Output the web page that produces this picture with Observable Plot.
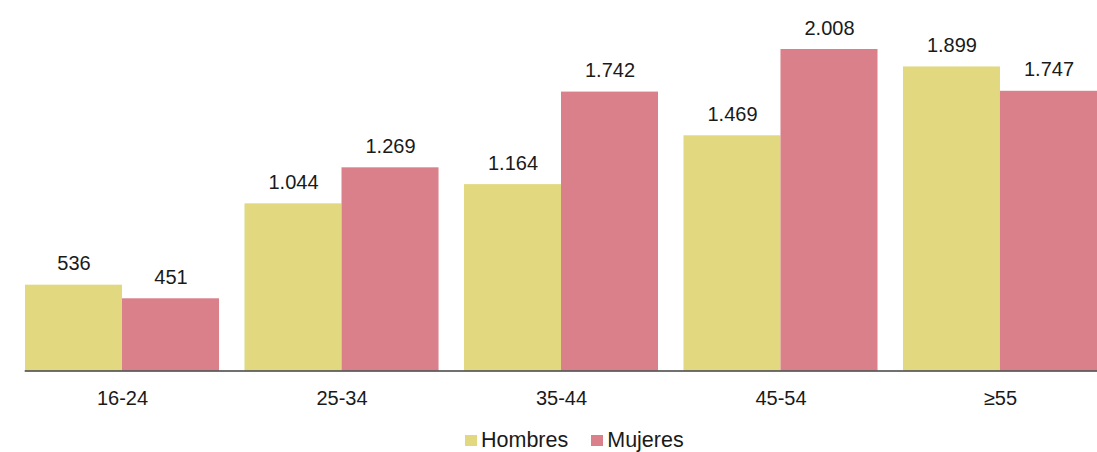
<!DOCTYPE html>
<html>
<head>
<meta charset="utf-8">
<script src="https://cdn.jsdelivr.net/npm/d3@7"></script>
<script src="https://cdn.jsdelivr.net/npm/@observablehq/plot@0.6"></script>
<style>
  html, body { margin: 0; padding: 0; background: #fff; }
  body { width: 1097px; height: 452px; position: relative; overflow: hidden; font-family: "Liberation Sans", Arial, sans-serif; }
  #legend { position: absolute; left: 465px; top: 430px; display: flex; align-items: center; font-size: 21.5px; line-height: 20px; color: #1a1a1a; }
  .sw { display: inline-block; width: 12px; height: 11px; margin-right: 4px; }
  .item { display: flex; align-items: center; margin-right: 23px; }
</style>
</head>
<body>
<div id="chart"></div>
<div id="legend"></div>
<script>
const ages = ["16-24", "25-34", "35-44", "45-54", "≥55"];
const series = ["Hombres", "Mujeres"];
const hombres = [536, 1044, 1164, 1469, 1899];
const mujeres = [451, 1269, 1742, 2008, 1747];
const colors = ["#e1d880", "#d9808a"];

const data = ages.flatMap((age, i) => [
  {age, sex: series[0], value: hombres[i]},
  {age, sex: series[1], value: mujeres[i]}
]);

const es = d3.formatLocale({decimal: ",", thousands: ".", grouping: [3], currency: ["", "€"]});
const fmt = es.format(",");

const chart = Plot.plot({
  width: 1097,
  height: 420,
  marginTop: 49,
  marginBottom: 49.5,
  marginLeft: 12,
  marginRight: 0,
  style: {fontFamily: "'Liberation Sans', Arial, sans-serif", fontSize: "20px", color: "#1a1a1a", background: "#fff"},
  fx: {domain: ages, paddingInner: 0.116, paddingOuter: 0.0296, align: 1, round: false, label: null, tickSize: 0, tickPadding: 20},
  x: {domain: series, padding: 0, round: false, axis: null},
  y: {domain: [0, 2008], axis: null},
  color: {domain: series, range: colors},
  marks: [
    Plot.barY(data, {fx: "age", x: "sex", y: "value", fill: "sex"}),
    Plot.text(data, {fx: "age", x: "sex", y: "value", text: d => fmt(d.value), lineAnchor: "bottom", dy: -15, fontSize: 20, fill: "#1a1a1a"}),
    Plot.frame({anchor: "bottom", facet: "super", stroke: "#404040", strokeWidth: 1.6})
  ]
});
document.getElementById("chart").appendChild(chart);

const legend = document.getElementById("legend");
series.forEach((s, i) => {
  const item = document.createElement("span");
  item.className = "item";
  const sw = document.createElement("span");
  sw.className = "sw";
  sw.style.background = colors[i];
  item.appendChild(sw);
  item.appendChild(document.createTextNode(s));
  legend.appendChild(item);
});
</script>
</body>
</html>
